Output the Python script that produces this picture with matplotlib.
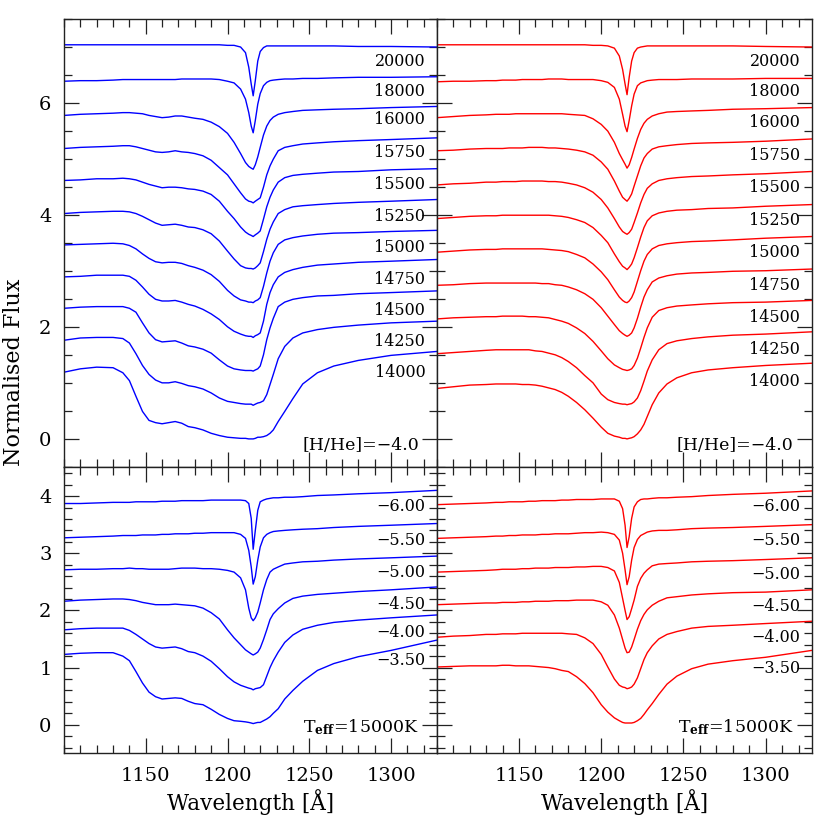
import matplotlib
matplotlib.use('Agg')
import matplotlib.pyplot as plt
from matplotlib.ticker import MultipleLocator, FixedLocator

plt.rcParams['font.family'] = ['DejaVu Serif']
plt.rcParams['mathtext.fontset'] = 'dejavuserif'

# wavelength grid (Angstrom) shared by every spectrum
wave = [1100, 1110, 1120, 1130, 1136, 1140, 1144, 1148, 1152, 1156, 1160, 1164,
        1168, 1172, 1176, 1180, 1185, 1190, 1195, 1200, 1204, 1208, 1211, 1213,
        1214.5, 1215.7, 1217, 1218.5, 1220, 1222, 1224, 1226, 1228, 1231, 1235,
        1240, 1246, 1255, 1265, 1280, 1300, 1328]

teff_labels = ['20000', '18000', '16000', '15750', '15500', '15250', '15000',
               '14750', '14500', '14250', '14000']
hhe_labels = ['\u22126.00', '\u22125.50', '\u22125.00', '\u22124.50',
              '\u22124.00', '\u22123.50']

# top left: blue models, [H/He]=-4.0, one list per Teff (offset fluxes)
blue_teff = [
    [7.04, 7.04, 7.04, 7.04, 7.04, 7.04, 7.04, 7.04, 7.04, 7.04, 7.04, 7.04, 7.04, 7.04,
     7.04, 7.04, 7.04, 7.04, 7.04, 7.03, 7.03, 7.00, 6.90, 6.64, 6.34, 6.13, 6.40, 6.75,
     6.92, 6.99, 7.02, 7.02, 7.02, 7.02, 7.02, 7.02, 7.02, 7.02, 7.02, 7.01, 7.01, 7.00],
    [6.39, 6.40, 6.40, 6.41, 6.42, 6.42, 6.42, 6.42, 6.42, 6.42, 6.42, 6.42, 6.42, 6.43,
     6.43, 6.43, 6.43, 6.43, 6.42, 6.39, 6.36, 6.25, 6.07, 5.83, 5.59, 5.47, 5.69, 5.98,
     6.17, 6.31, 6.37, 6.40, 6.41, 6.42, 6.43, 6.43, 6.44, 6.44, 6.45, 6.46, 6.46, 6.47],
    [5.78, 5.80, 5.81, 5.82, 5.83, 5.83, 5.82, 5.81, 5.78, 5.76, 5.74, 5.75, 5.77, 5.77,
     5.75, 5.73, 5.71, 5.66, 5.58, 5.46, 5.30, 5.10, 4.94, 4.87, 4.84, 4.82, 4.90, 5.04,
     5.21, 5.43, 5.59, 5.69, 5.75, 5.80, 5.83, 5.85, 5.87, 5.88, 5.89, 5.90, 5.92, 5.94],
    [5.19, 5.21, 5.22, 5.23, 5.24, 5.24, 5.22, 5.19, 5.16, 5.13, 5.12, 5.13, 5.15, 5.13,
     5.12, 5.10, 5.06, 4.98, 4.85, 4.72, 4.56, 4.40, 4.29, 4.25, 4.24, 4.22, 4.25, 4.28,
     4.31, 4.50, 4.72, 4.88, 5.00, 5.15, 5.21, 5.24, 5.27, 5.29, 5.31, 5.33, 5.35, 5.38],
    [4.62, 4.63, 4.65, 4.65, 4.66, 4.65, 4.63, 4.59, 4.55, 4.52, 4.49, 4.50, 4.50, 4.49,
     4.47, 4.46, 4.43, 4.37, 4.25, 4.07, 3.94, 3.79, 3.70, 3.66, 3.64, 3.62, 3.65, 3.68,
     3.72, 3.93, 4.15, 4.32, 4.45, 4.59, 4.67, 4.71, 4.73, 4.75, 4.77, 4.78, 4.81, 4.83],
    [4.03, 4.05, 4.06, 4.07, 4.07, 4.06, 4.03, 3.98, 3.92, 3.86, 3.82, 3.83, 3.84, 3.82,
     3.79, 3.78, 3.74, 3.67, 3.54, 3.36, 3.22, 3.10, 3.06, 3.05, 3.05, 3.04, 3.06, 3.10,
     3.15, 3.35, 3.57, 3.75, 3.88, 4.03, 4.10, 4.15, 4.17, 4.19, 4.21, 4.23, 4.25, 4.28],
    [3.47, 3.48, 3.49, 3.50, 3.49, 3.46, 3.40, 3.31, 3.23, 3.17, 3.15, 3.16, 3.16, 3.14,
     3.10, 3.07, 3.02, 2.94, 2.82, 2.66, 2.56, 2.49, 2.47, 2.45, 2.45, 2.44, 2.47, 2.49,
     2.53, 2.73, 2.97, 3.18, 3.33, 3.48, 3.56, 3.60, 3.63, 3.66, 3.68, 3.69, 3.71, 3.73],
    [2.90, 2.91, 2.93, 2.93, 2.93, 2.91, 2.84, 2.72, 2.59, 2.50, 2.47, 2.47, 2.48, 2.45,
     2.41, 2.38, 2.32, 2.24, 2.14, 2.01, 1.93, 1.88, 1.85, 1.84, 1.84, 1.82, 1.85, 1.87,
     1.90, 2.11, 2.41, 2.62, 2.76, 2.90, 2.98, 3.03, 3.07, 3.11, 3.13, 3.16, 3.18, 3.21],
    [2.34, 2.36, 2.37, 2.37, 2.37, 2.34, 2.27, 2.08, 1.90, 1.78, 1.74, 1.75, 1.76, 1.72,
     1.67, 1.65, 1.61, 1.54, 1.42, 1.31, 1.26, 1.24, 1.23, 1.23, 1.23, 1.22, 1.24, 1.26,
     1.31, 1.51, 1.78, 1.99, 2.16, 2.37, 2.45, 2.50, 2.53, 2.56, 2.57, 2.60, 2.62, 2.65],
    [1.77, 1.81, 1.82, 1.82, 1.80, 1.72, 1.53, 1.32, 1.16, 1.06, 1.01, 1.01, 1.03, 1.00,
     0.96, 0.94, 0.90, 0.83, 0.74, 0.68, 0.66, 0.64, 0.63, 0.63, 0.63, 0.61, 0.63, 0.65,
     0.66, 0.69, 0.80, 0.98, 1.16, 1.44, 1.66, 1.81, 1.90, 1.96, 2.00, 2.04, 2.08, 2.11],
    [1.20, 1.26, 1.29, 1.28, 1.19, 1.05, 0.77, 0.50, 0.34, 0.30, 0.28, 0.30, 0.32, 0.29,
     0.23, 0.21, 0.17, 0.11, 0.07, 0.04, 0.03, 0.02, 0.02, 0.01, 0.01, 0.01, 0.02, 0.04,
     0.04, 0.05, 0.07, 0.11, 0.17, 0.32, 0.50, 0.73, 0.99, 1.19, 1.31, 1.41, 1.50, 1.57],
]

# top right: red models, same Teff sequence
red_teff = [
    [7.04, 7.04, 7.04, 7.04, 7.04, 7.04, 7.04, 7.04, 7.04, 7.04, 7.04, 7.04, 7.04, 7.04,
     7.04, 7.04, 7.04, 7.04, 7.03, 7.03, 7.02, 6.98, 6.84, 6.60, 6.34, 6.15, 6.46, 6.75,
     6.90, 6.98, 7.00, 7.01, 7.02, 7.02, 7.02, 7.02, 7.02, 7.02, 7.02, 7.02, 7.01, 7.00],
    [6.38, 6.39, 6.39, 6.40, 6.40, 6.41, 6.41, 6.41, 6.42, 6.42, 6.42, 6.42, 6.43, 6.43,
     6.43, 6.42, 6.42, 6.42, 6.42, 6.40, 6.37, 6.28, 6.07, 5.80, 5.59, 5.49, 5.69, 5.95,
     6.16, 6.31, 6.36, 6.38, 6.40, 6.41, 6.42, 6.42, 6.42, 6.43, 6.43, 6.43, 6.44, 6.44],
    [5.74, 5.76, 5.78, 5.79, 5.80, 5.80, 5.80, 5.81, 5.81, 5.81, 5.81, 5.81, 5.81, 5.81,
     5.81, 5.80, 5.79, 5.78, 5.72, 5.62, 5.50, 5.30, 5.10, 4.99, 4.91, 4.84, 4.90, 5.03,
     5.18, 5.37, 5.53, 5.64, 5.71, 5.77, 5.81, 5.84, 5.85, 5.86, 5.87, 5.89, 5.90, 5.92],
    [5.15, 5.16, 5.18, 5.19, 5.19, 5.19, 5.20, 5.20, 5.20, 5.21, 5.21, 5.21, 5.20, 5.20,
     5.19, 5.18, 5.16, 5.13, 5.07, 4.95, 4.82, 4.61, 4.43, 4.32, 4.28, 4.25, 4.30, 4.38,
     4.52, 4.70, 4.88, 5.02, 5.10, 5.18, 5.22, 5.24, 5.26, 5.28, 5.29, 5.30, 5.32, 5.36],
    [4.54, 4.56, 4.57, 4.59, 4.59, 4.60, 4.60, 4.60, 4.61, 4.61, 4.61, 4.61, 4.60, 4.60,
     4.59, 4.57, 4.54, 4.49, 4.41, 4.28, 4.13, 3.94, 3.79, 3.71, 3.68, 3.66, 3.69, 3.75,
     3.87, 4.04, 4.22, 4.37, 4.48, 4.56, 4.62, 4.65, 4.67, 4.69, 4.70, 4.72, 4.74, 4.78],
    [3.94, 3.96, 3.98, 3.99, 3.99, 4.00, 4.00, 4.00, 4.00, 4.00, 4.00, 4.00, 4.00, 3.99,
     3.98, 3.96, 3.92, 3.87, 3.78, 3.64, 3.51, 3.31, 3.17, 3.09, 3.06, 3.03, 3.07, 3.13,
     3.24, 3.42, 3.61, 3.78, 3.90, 3.99, 4.04, 4.07, 4.09, 4.10, 4.12, 4.13, 4.16, 4.19],
    [3.34, 3.36, 3.38, 3.39, 3.39, 3.40, 3.40, 3.40, 3.40, 3.40, 3.40, 3.40, 3.39, 3.38,
     3.37, 3.35, 3.30, 3.24, 3.13, 2.99, 2.85, 2.67, 2.54, 2.48, 2.45, 2.44, 2.47, 2.53,
     2.63, 2.82, 3.01, 3.18, 3.30, 3.40, 3.46, 3.49, 3.51, 3.53, 3.54, 3.56, 3.59, 3.62],
    [2.75, 2.76, 2.78, 2.79, 2.79, 2.79, 2.79, 2.79, 2.79, 2.79, 2.79, 2.78, 2.78, 2.76,
     2.75, 2.72, 2.67, 2.60, 2.50, 2.35, 2.20, 2.05, 1.94, 1.89, 1.86, 1.84, 1.86, 1.90,
     1.99, 2.16, 2.36, 2.54, 2.67, 2.81, 2.88, 2.92, 2.95, 2.97, 2.98, 3.00, 3.01, 3.04],
    [2.15, 2.17, 2.18, 2.19, 2.19, 2.20, 2.20, 2.20, 2.20, 2.19, 2.19, 2.18, 2.17, 2.14,
     2.11, 2.07, 1.99, 1.89, 1.75, 1.58, 1.44, 1.33, 1.28, 1.25, 1.24, 1.23, 1.24, 1.26,
     1.32, 1.45, 1.63, 1.82, 1.99, 2.18, 2.30, 2.35, 2.38, 2.40, 2.42, 2.44, 2.45, 2.48],
    [1.53, 1.55, 1.57, 1.59, 1.60, 1.60, 1.60, 1.60, 1.60, 1.60, 1.58, 1.57, 1.54, 1.51,
     1.46, 1.39, 1.28, 1.14, 1.01, 0.81, 0.71, 0.66, 0.64, 0.63, 0.63, 0.62, 0.63, 0.64,
     0.67, 0.74, 0.87, 1.04, 1.22, 1.42, 1.60, 1.71, 1.76, 1.80, 1.83, 1.86, 1.88, 1.92],
    [0.91, 0.94, 0.97, 0.98, 0.99, 0.99, 0.99, 0.99, 0.98, 0.98, 0.97, 0.95, 0.92, 0.89,
     0.84, 0.77, 0.66, 0.53, 0.38, 0.22, 0.11, 0.06, 0.04, 0.02, 0.02, 0.01, 0.02, 0.03,
     0.05, 0.10, 0.17, 0.27, 0.41, 0.62, 0.83, 0.99, 1.10, 1.19, 1.24, 1.28, 1.32, 1.36],
]

# bottom left: blue models at Teff=15000K, one list per log(H/He)
blue_hhe = [
    [3.87, 3.87, 3.88, 3.89, 3.89, 3.89, 3.90, 3.90, 3.90, 3.90, 3.91, 3.91, 3.91, 3.92,
     3.92, 3.92, 3.92, 3.93, 3.93, 3.93, 3.93, 3.93, 3.92, 3.87, 3.61, 3.07, 3.40, 3.75,
     3.90, 3.93, 3.95, 3.96, 3.97, 3.97, 3.98, 3.98, 3.99, 4.01, 4.02, 4.04, 4.06, 4.10],
    [3.27, 3.28, 3.29, 3.30, 3.31, 3.31, 3.31, 3.32, 3.32, 3.32, 3.33, 3.33, 3.34, 3.34,
     3.34, 3.35, 3.35, 3.36, 3.36, 3.36, 3.36, 3.33, 3.26, 3.05, 2.76, 2.46, 2.59, 2.88,
     3.11, 3.27, 3.33, 3.36, 3.38, 3.39, 3.40, 3.41, 3.42, 3.43, 3.45, 3.47, 3.49, 3.52],
    [2.71, 2.72, 2.72, 2.73, 2.73, 2.74, 2.73, 2.73, 2.72, 2.72, 2.72, 2.72, 2.73, 2.74,
     2.74, 2.74, 2.73, 2.73, 2.72, 2.70, 2.67, 2.57, 2.36, 2.04, 1.87, 1.82, 1.87, 1.97,
     2.13, 2.36, 2.54, 2.67, 2.72, 2.76, 2.81, 2.83, 2.85, 2.86, 2.88, 2.90, 2.92, 2.95],
    [2.16, 2.18, 2.19, 2.20, 2.20, 2.19, 2.17, 2.14, 2.12, 2.10, 2.10, 2.10, 2.11, 2.10,
     2.09, 2.08, 2.04, 1.96, 1.85, 1.66, 1.52, 1.40, 1.31, 1.27, 1.24, 1.22, 1.24, 1.27,
     1.34, 1.49, 1.66, 1.84, 1.94, 2.03, 2.13, 2.21, 2.25, 2.28, 2.30, 2.33, 2.36, 2.41],
    [1.66, 1.68, 1.69, 1.69, 1.69, 1.65, 1.58, 1.50, 1.42, 1.36, 1.34, 1.35, 1.36, 1.33,
     1.28, 1.26, 1.20, 1.11, 0.98, 0.84, 0.75, 0.69, 0.66, 0.64, 0.63, 0.61, 0.63, 0.64,
     0.65, 0.70, 0.85, 1.00, 1.12, 1.27, 1.44, 1.57, 1.67, 1.74, 1.79, 1.83, 1.87, 1.92],
    [1.23, 1.25, 1.26, 1.26, 1.20, 1.12, 0.93, 0.73, 0.57, 0.49, 0.45, 0.46, 0.47, 0.46,
     0.41, 0.37, 0.35, 0.27, 0.18, 0.11, 0.07, 0.06, 0.05, 0.04, 0.03, 0.02, 0.03, 0.04,
     0.04, 0.07, 0.10, 0.14, 0.20, 0.28, 0.45, 0.60, 0.76, 0.95, 1.07, 1.19, 1.30, 1.48],
]

# bottom right: red models at Teff=15000K
red_hhe = [
    [3.85, 3.86, 3.87, 3.88, 3.89, 3.89, 3.90, 3.90, 3.90, 3.91, 3.91, 3.92, 3.92, 3.92,
     3.93, 3.93, 3.94, 3.94, 3.94, 3.95, 3.95, 3.95, 3.91, 3.78, 3.49, 3.10, 3.29, 3.61,
     3.81, 3.90, 3.94, 3.95, 3.95, 3.96, 3.97, 3.97, 3.98, 3.99, 4.01, 4.03, 4.05, 4.09],
    [3.26, 3.27, 3.28, 3.29, 3.30, 3.30, 3.31, 3.31, 3.32, 3.32, 3.32, 3.33, 3.33, 3.34,
     3.34, 3.34, 3.35, 3.36, 3.36, 3.37, 3.36, 3.33, 3.23, 3.00, 2.71, 2.45, 2.59, 2.88,
     3.10, 3.24, 3.31, 3.34, 3.37, 3.39, 3.40, 3.40, 3.41, 3.43, 3.44, 3.45, 3.47, 3.50],
    [2.67, 2.68, 2.69, 2.70, 2.71, 2.72, 2.72, 2.72, 2.73, 2.73, 2.74, 2.74, 2.74, 2.75,
     2.75, 2.75, 2.76, 2.76, 2.77, 2.77, 2.75, 2.69, 2.49, 2.21, 2.00, 1.84, 1.89, 2.03,
     2.18, 2.42, 2.56, 2.65, 2.71, 2.78, 2.81, 2.82, 2.83, 2.85, 2.86, 2.87, 2.89, 2.92],
    [2.10, 2.11, 2.12, 2.13, 2.13, 2.14, 2.14, 2.14, 2.15, 2.15, 2.16, 2.16, 2.16, 2.17,
     2.17, 2.17, 2.18, 2.18, 2.18, 2.15, 2.09, 1.92, 1.69, 1.49, 1.34, 1.26, 1.27, 1.36,
     1.49, 1.67, 1.82, 1.93, 2.01, 2.09, 2.16, 2.22, 2.24, 2.27, 2.29, 2.31, 2.32, 2.36],
    [1.53, 1.55, 1.56, 1.58, 1.58, 1.59, 1.59, 1.59, 1.60, 1.60, 1.60, 1.60, 1.60, 1.60,
     1.60, 1.59, 1.58, 1.52, 1.42, 1.23, 1.01, 0.80, 0.69, 0.66, 0.65, 0.63, 0.64, 0.66,
     0.71, 0.82, 0.98, 1.14, 1.26, 1.38, 1.50, 1.58, 1.63, 1.69, 1.72, 1.74, 1.77, 1.81],
    [1.01, 1.02, 1.03, 1.03, 1.03, 1.04, 1.04, 1.03, 1.03, 1.03, 1.02, 1.01, 1.00, 0.98,
     0.95, 0.93, 0.84, 0.72, 0.56, 0.35, 0.22, 0.12, 0.07, 0.04, 0.03, 0.03, 0.03, 0.03,
     0.04, 0.07, 0.11, 0.18, 0.26, 0.37, 0.53, 0.71, 0.85, 0.98, 1.06, 1.12, 1.18, 1.30],
]

# label heights (same units as the fluxes)
teff_label_y_blue = [6.74, 6.20, 5.70, 5.12, 4.55, 3.98, 3.42, 2.86, 2.30, 1.75, 1.20]
teff_label_y_red = [6.74, 6.20, 5.65, 5.07, 4.49, 3.91, 3.34, 2.75, 2.18, 1.60, 1.04]
hhe_label_y_blue = [3.81, 3.23, 2.66, 2.11, 1.62, 1.13]
hhe_label_y_red = [3.81, 3.22, 2.63, 2.07, 1.52, 0.99]
wave_ticks = [1150, 1200, 1250, 1300]


def style_axis(ax, top_panel):
    ax.set_xlim(1100, 1328)
    if top_panel:
        ax.set_ylim(-0.5, 7.5)
        ax.yaxis.set_major_locator(MultipleLocator(2))
        ax.yaxis.set_minor_locator(MultipleLocator(0.5))
    else:
        ax.set_ylim(-0.5, 4.5)
        ax.yaxis.set_major_locator(MultipleLocator(1))
        ax.yaxis.set_minor_locator(MultipleLocator(0.2))
    ax.xaxis.set_major_locator(FixedLocator(wave_ticks))
    ax.xaxis.set_minor_locator(MultipleLocator(10))
    ax.tick_params(which='both', direction='in', top=True, right=True,
                   width=0.9, color='#222222', labelsize=14)
    ax.tick_params(which='major', length=11)
    ax.tick_params(which='minor', length=5.5)
    ax.tick_params(axis='y', pad=9)
    ax.tick_params(axis='x', pad=10)
    for s in ax.spines.values():
        s.set_linewidth(1.0)
        s.set_color('#222222')


def draw_panel(ax, spectra, color, labels, label_y, note, note_y):
    for flux in spectra:
        ax.plot(wave, flux, color=color, lw=1.0)
    for lab, y in zip(labels, label_y):
        ax.text(1321, y, lab, ha='right', va='center', fontsize=11.5)
    ax.text(1317, note_y, note, ha='right', va='center', fontsize=12.5)


fig = plt.figure(figsize=(8.3, 8.3), dpi=100)
W = 830.0
left, mid, right = 64 / W, 436.8 / W, 811.7 / W
top, split, bottom = 1 - 19 / W, 1 - 467.5 / W, 1 - 753.3 / W

ax_tl = fig.add_axes([left, split, mid - left, top - split])
ax_tr = fig.add_axes([mid, split, right - mid, top - split])
ax_bl = fig.add_axes([left, bottom, mid - left, split - bottom])
ax_br = fig.add_axes([mid, bottom, right - mid, split - bottom])

hhe_note = '[H/He]=\u22124.0'
teff_note = r'T$_{\mathbf{eff}}$=15000K'

draw_panel(ax_tl, blue_teff, '#0000ff', teff_labels, teff_label_y_blue, hhe_note, -0.1)
draw_panel(ax_tr, red_teff, '#ff0000', teff_labels, teff_label_y_red, hhe_note, -0.1)
draw_panel(ax_bl, blue_hhe, '#0000ff', hhe_labels, hhe_label_y_blue, teff_note, -0.05)
draw_panel(ax_br, red_hhe, '#ff0000', hhe_labels, hhe_label_y_red, teff_note, -0.05)

style_axis(ax_tl, True)
style_axis(ax_tr, True)
style_axis(ax_bl, False)
style_axis(ax_br, False)

for ax in (ax_tl, ax_tr):
    ax.tick_params(labelbottom=False)
for ax in (ax_tr, ax_br):
    ax.tick_params(labelleft=False)

fig.text(14 / W, 1 - 372 / W, 'Normalised Flux', rotation=90,
         ha='center', va='center', fontsize=16)
fig.text((left + mid) / 2, 1 - 802 / W, 'Wavelength [\u00c5]',
         ha='center', va='center', fontsize=15.5)
fig.text((mid + right) / 2, 1 - 802 / W, 'Wavelength [\u00c5]',
         ha='center', va='center', fontsize=15.5)

fig.savefig('out.png', dpi=100)
